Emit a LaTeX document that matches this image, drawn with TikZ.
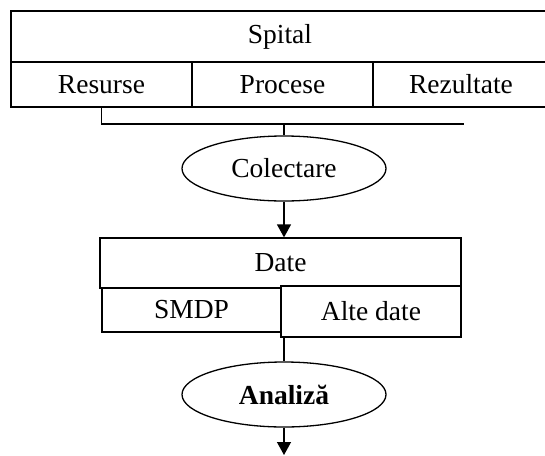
\documentclass[tikz,border=0pt]{standalone}
\usepackage{fontspec}
\setmainfont{Liberation Serif}
\usepackage{tikz}
\usetikzlibrary{arrows,arrows.meta,positioning}
\usetikzlibrary{shapes,calc}
\tikzstyle{every picture}+=[>={Triangle[width=14pt,length=13pt]}]
\tikzstyle{cell}=[rectangle,draw=black,inner sep=0pt,font=\fontsize{27.5}{32}\selectfont]
\tikzstyle{stage}=[ellipse,draw=black,inner sep=0pt,minimum width=204pt,minimum height=65pt,font=\fontsize{27.5}{32}\selectfont]

\begin{document}
\begin{tikzpicture}[x=1pt,y=-1pt,line width=1.3pt]
\useasboundingbox (0,0) rectangle (545,455);
\clip (0,0) rectangle (545,455);
%\tikzstyle{etiquette}=[midway,fill=black!20]
\node[cell,minimum width=538pt,minimum height=51pt] (spital) at (280,36.5) {Spital};
\node[cell,minimum width=181pt,minimum height=45pt] (resurse) at (101.5,84.5) {Resurse};
\node[cell,minimum width=181pt,minimum height=45pt] (procese) at (282.5,84.5) {Procese};
\node[cell,minimum width=176pt,minimum height=45pt] (rezultate) at (461,84.5) {Rezultate};
\coordinate (colend) at (464,124);
\node[stage] (colectare) at (284,168.5) {Colectare};
\node[cell,minimum width=361pt,minimum height=50pt] (date) at (280.5,263) {Date};
\node[cell,minimum width=179pt,minimum height=44pt] (smdp) at (191.5,310) {SMDP};
\node[cell,fill=white,minimum width=180pt,minimum height=51pt] (alte) at (371,311.5) {Alte date};
\node[stage] (analiza) at (284,394.5) {\textbf{Analiză}};
\coordinate (out) at (284,455);
\draw (resurse.south) |- (colend);
\draw (colectare.north |- colend) -- (colectare.north);
\path[->] (colectare.south) edge (colectare.south |- date.north)
                (analiza.north |- alte.south) edge [-] (analiza.north)
                (analiza.south) edge (out);
\end{tikzpicture}
\end{document}
